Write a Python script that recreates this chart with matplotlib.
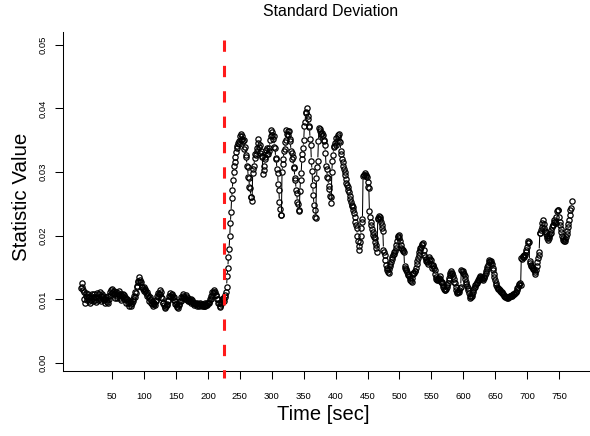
import numpy as np
import matplotlib
matplotlib.use("Agg")
import matplotlib.pyplot as plt
from matplotlib.collections import LineCollection

# ---- data (values in units of 1e-4, one value per second) ----
SCALE = 1e-4
baseline_start = 1
baseline = [118, 125, 120, 114, 111, 100, 94, 106, 110, 103,
            99, 108, 97, 104, 95, 105, 99, 109, 102, 98,
            108, 104, 99, 96, 103, 110, 102, 99, 108, 111,
            101, 98, 105, 109, 102, 106, 99, 95, 100, 104,
            96, 99, 95, 106, 101, 111, 106, 114, 110, 117,
            112, 108, 113, 102, 108, 111, 102, 105, 110, 113,
            107, 102, 109, 99, 105, 109, 103, 100, 107, 104,
            101, 95, 100, 97, 94, 90, 96, 98, 92, 89,
            95, 101, 98, 106, 103, 111, 110, 119, 121, 128,
            129, 135, 131, 127, 128, 119, 120, 117, 113, 119,
            114, 116, 110, 111, 106, 107, 102, 98, 103, 95,
            99, 93, 96, 89, 92, 94, 91, 99, 98, 106,
            104, 110, 108, 114, 109, 111, 104, 102, 95, 94,
            91, 86, 88, 89, 91, 92, 98, 99, 106, 105,
            110, 104, 108, 107, 104, 103, 99, 98, 93, 93,
            89, 88, 86, 92, 91, 98, 97, 104, 102, 108,
            105, 103, 102, 101, 100, 107, 103, 102, 98, 97,
            99, 98, 101, 95, 99, 94, 96, 91, 95, 93,
            93, 89, 94, 93, 91, 90, 92, 95, 91, 89,
            93, 92, 90, 90, 89, 94, 91, 91, 94, 95,
            96, 95, 100, 101, 106, 105, 111, 110, 114, 112,
            111, 107, 107, 101, 101, 95, 95, 90, 88, 93,
            95, 101, 102, 99]
rise_start = 225
rise = [98, 107, 104, 112, 120, 136, 150, 167, 179, 199,
        220, 237, 259, 272, 288, 300, 309, 316, 324, 332,
        338, 341, 345, 349]
plateau_start = 249
plateau = [344, 356, 350, 360, 352, 357, 348, 350, 336, 340,
           326, 324, 310, 308, 292, 290, 276, 275, 261, 260,
           255, 298, 305, 309, 322, 328, 326, 338, 333, 345,
           352, 340, 342, 330, 333, 323, 325, 297, 303, 310,
           320, 323, 334, 328, 338, 329, 333, 338, 350, 357,
           366, 358, 363, 352, 356, 340, 338, 322, 320, 304,
           298, 281, 272, 253, 242, 233, 233, 300, 312, 320,
           333, 336, 347, 350, 366, 359, 364, 358, 365, 352,
           348, 333, 330, 321, 323, 308, 306, 291, 288, 272,
           267, 253, 250, 241, 238, 270, 288, 298, 320, 328,
           338, 350, 372, 378, 392, 394, 400, 388, 384, 372,
           370, 352, 343, 318, 302, 279, 264, 248, 240, 230,
           228, 290, 308, 318, 348, 369, 364, 368, 360, 362,
           357, 358, 349, 351, 342, 330, 309, 305, 292, 290,
           278, 274, 262, 260, 251, 300, 318, 327, 339, 341,
           346, 343, 353, 349, 358, 355, 360, 349, 347, 333,
           329, 320]
decline_start = 411
decline = [316, 310, 305, 300, 296, 289, 282, 279, 276, 272,
           268, 263, 258, 253, 248, 247, 245, 240, 236, 229,
           222, 217, 212, 200, 191, 184, 178, 190, 200, 212,
           222, 226, 293, 295, 296, 298, 296, 294, 292, 285,
           277, 275, 238, 230, 222, 216, 210, 205, 201, 198,
           196, 190, 186, 180, 175, 226, 228, 231, 230, 226,
           222, 217, 212, 208, 178, 174, 170, 162, 154, 150,
           146, 143, 141, 147, 152, 156, 159, 163, 166, 169,
           172, 174, 176, 181, 185, 192, 198, 200, 201, 196,
           192, 186, 180, 179, 178, 176, 175, 152, 150, 148,
           146, 143, 140, 138, 137, 133, 130, 129, 128, 134,
           140, 141, 142, 144, 145, 150, 155, 160, 165, 170,
           175, 178, 180, 183, 185, 187, 188, 178, 170, 166,
           163, 161, 160, 158, 156, 162]
trough_start = 547
trough = [167, 164, 162, 155, 149, 152, 154, 150, 146, 140,
          135, 132, 130, 131, 132, 134, 136, 132, 128, 127,
          125, 122, 120, 117, 115, 114, 116, 119, 122, 126,
          130, 134, 138, 141, 144, 142, 140, 136, 132, 128,
          125, 120, 115, 112, 110, 111, 112, 115, 118, 120,
          146, 145, 144, 142, 140, 136, 132, 128, 124, 121,
          118, 114, 110, 106, 102, 104, 106, 109, 112, 115,
          118, 120, 122, 124, 125, 128, 130, 131, 133, 135,
          136, 135, 134, 132, 131, 133, 135, 139, 142, 145,
          148, 151, 154, 158, 162, 161, 160, 157, 155, 150,
          146, 140, 135, 130, 125, 122, 120, 118, 117, 116,
          115, 113, 112, 111, 110, 109, 108, 106, 105, 104,
          104, 103, 102, 102, 103, 104, 105, 105, 106, 106,
          107, 108, 108, 109, 110, 111, 112, 115, 118, 120,
          122, 124, 125, 123]
end_start = 691
end_rise = [165, 164, 166, 168, 167, 169, 170, 174, 178, 183,
            188, 191, 190, 160, 157, 154, 152, 151, 150, 148,
            146, 143, 140, 146, 152, 158, 165, 170, 175, 204,
            204, 209, 214, 220, 225, 218, 212, 208, 205, 202,
            199, 196, 193, 197, 200, 202, 204, 209, 214, 216,
            217, 221, 225, 222, 220, 230, 238, 240, 240, 230,
            222, 216, 210, 205, 200, 196, 193, 191, 191, 195,
            198, 203, 208, 213, 218, 225, 233, 240, 243, 254]

change_point = 225
x_ticks = list(range(50, 800, 50))
y_ticks = [0.00, 0.01, 0.02, 0.03, 0.04, 0.05]
y_tick_labels = ["0.00", "0.01", "0.02", "0.03", "0.04", "0.05"]
title = "Standard Deviation"
xlabel = "Time [sec]"
ylabel = "Statistic Value"

segments = [(baseline_start, baseline), (rise_start, rise), (plateau_start, plateau),
            (decline_start, decline), (trough_start, trough), (end_start, end_rise)]
t = np.concatenate([s + np.arange(len(v)) for s, v in segments]).astype(float)
y = np.concatenate([np.array(v, float) for _, v in segments]) * SCALE

# ---- figure ----
W, H = 590, 436
DPI = 100
plt.rcParams['font.family'] = ['Liberation Sans', 'DejaVu Sans']
fig = plt.figure(figsize=(W / DPI, H / DPI), dpi=DPI)

L, R, T, B = 63, 590, 32, 371
ax = fig.add_axes([L / W, 1 - B / H, (R - L) / W, (B - T) / H])
ylim = (-0.00126, 0.0520)
ax.set_xlim(-27.3, 798.7)
ax.set_ylim(*ylim)

for s in ['top', 'right']:
    ax.spines[s].set_visible(False)
for s in ['left', 'bottom']:
    ax.spines[s].set_linewidth(0.75)

ax.set_xticks(x_ticks)
ax.set_xticklabels([str(v) for v in x_ticks])
ax.set_yticks(y_ticks)
ax.set_yticklabels(y_tick_labels, rotation=90, va='center')
ax.tick_params(axis='both', labelsize=6.8, length=6, width=0.75, direction='out')
ax.tick_params(axis='x', pad=9)
ax.tick_params(axis='y', pad=5)

# points (hollow circles)
ax.plot(t, y, linestyle='none', marker='o', markersize=3.8, markerfacecolor='none',
        markeredgecolor='black', markeredgewidth=0.9, zorder=3)

# type 'b' lines: segments with gaps around the points
disp = ax.transData.transform(np.column_stack([t, y]))
gap = 3.2
segs = []
for p0, p1 in zip(disp[:-1], disp[1:]):
    d = p1 - p0
    Ln = np.hypot(d[0], d[1])
    if Ln > 2 * gap + 0.5:
        u = d / Ln
        seg = np.array([p0 + u * gap, p1 - u * gap])
        segs.append(ax.transData.inverted().transform(seg))
ax.add_collection(LineCollection(segs, colors='black', linewidths=0.75, zorder=2))

# change point (dashed red vertical line, drawn from the top down)
ax.plot([change_point, change_point], [0.0508, -0.0024], color='#ff1a1a',
        linewidth=2.2, dashes=(3.7, 4.6), zorder=4, clip_on=False)

fig.text(331 / W, 1 - 12 / H, title, ha='center', va='center', fontsize=11.4)
fig.text(323 / W, 1 - 414 / H, xlabel, ha='center', va='center', fontsize=14.5)
fig.text(22 / W, 1 - 197 / H, ylabel, ha='center', va='center', fontsize=14.8, rotation=90)

fig.savefig("out.png", dpi=DPI)
